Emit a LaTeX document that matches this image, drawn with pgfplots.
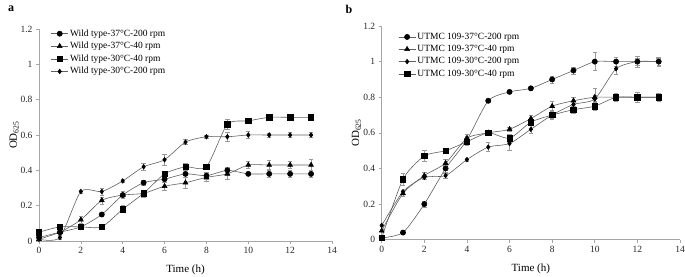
\documentclass[border=0pt]{standalone}
\usepackage{pgfplots}
\pgfplotsset{compat=1.18}
\usepackage{fontspec}
\setmainfont{Liberation Serif}

\pgfplotstableread{
t y e
0 0.02 0.005
1 0.05 0.01
2 0.08 0.01
3 0.15 0.01
4 0.26 0.02
5 0.33 0.015
6 0.35 0.02
7 0.38 0.02
8 0.37 0.02
9 0.40 0.02
10 0.38 0.01
11 0.38 0.02
12 0.38 0.02
13 0.38 0.02
}\aA
\pgfplotstableread{
t y e
0 0.01 0.005
1 0.05 0.01
2 0.12 0.02
3 0.23 0.02
4 0.26 0.02
5 0.27 0.02
6 0.31 0.02
7 0.33 0.03
8 0.36 0.02
9 0.38 0.03
10 0.43 0.02
11 0.43 0.025
12 0.43 0.02
13 0.43 0.03
}\aB
\pgfplotstableread{
t y e
0 0.05 0.01
1 0.08 0.01
2 0.08 0.015
3 0.08 0.015
4 0.18 0.02
5 0.27 0.015
6 0.38 0.015
7 0.42 0.02
8 0.42 0.015
9 0.66 0.03
10 0.68 0.015
11 0.70 0.015
12 0.70 0.015
13 0.70 0.015
}\aC
\pgfplotstableread{
t y e
0 0.01 0.005
1 0.02 0.01
2 0.28 0.01
3 0.28 0.02
4 0.34 0.01
5 0.42 0.02
6 0.46 0.03
7 0.56 0.015
8 0.59 0.01
9 0.59 0.025
10 0.60 0.02
11 0.60 0.01
12 0.60 0.015
13 0.60 0.015
}\aD

\pgfplotstableread{
t y e
0 0.01 0.005
1 0.04 0.01
2 0.20 0.015
3 0.40 0.02
4 0.56 0.02
5 0.78 0.01
6 0.83 0.01
7 0.85 0.01
8 0.90 0.02
9 0.95 0.02
10 1.00 0.05
11 1.00 0.025
12 1.00 0.03
13 1.00 0.025
}\bA
\pgfplotstableread{
t y e
0 0.05 0.01
1 0.26 0.015
2 0.36 0.02
3 0.43 0.02
4 0.57 0.02
5 0.60 0.01
6 0.62 0.01
7 0.68 0.02
8 0.75 0.025
9 0.78 0.02
10 0.80 0.05
11 0.80 0.02
12 0.80 0.03
13 0.80 0.02
}\bB
\pgfplotstableread{
t y e
0 0.08 0.005
1 0.27 0.01
2 0.35 0.01
3 0.36 0.015
4 0.45 0.01
5 0.52 0.025
6 0.54 0.035
7 0.62 0.02
8 0.70 0.02
9 0.76 0.02
10 0.79 0.02
11 0.96 0.03
12 1.00 0.02
13 1.00 0.02
}\bC
\pgfplotstableread{
t y e
0 0.01 0.005
1 0.34 0.035
2 0.47 0.03
3 0.50 0.01
4 0.55 0.02
5 0.60 0.01
6 0.57 0.02
7 0.66 0.02
8 0.70 0.025
9 0.73 0.02
10 0.75 0.025
11 0.80 0.025
12 0.80 0.03
13 0.80 0.025
}\bD

\pgfplotsset{
  myaxis/.style={
    scale only axis,
    xmin=0, xmax=14, ymin=0, ymax=1.2,
    xtick={0,2,...,14},
    ytick={0,0.2,0.4,0.6,0.8,1,1.2},
    axis x line*=bottom, axis y line*=left,
    axis line style={gray!70, line width=0.6pt, -},
    tick style={gray!70, line width=0.6pt},
    tick align=outside,
    major tick length=3bp,
    /pgf/number format/assume math mode=true,
    ticklabel style={font=\fontsize{9.5bp}{11bp}\selectfont, text=black!85},
    label style={font=\fontsize{11bp}{13bp}\selectfont},
    xlabel={Time (h)},
    ylabel={OD\textsubscript{625}},
    xlabel style={at={(axis description cs:0.5,-0.135)}, anchor=center},
    ylabel style={at={(axis description cs:-0.085,0.5)}, anchor=center, rotate=0},
    legend cell align=left,
    legend style={draw=none, fill=none, font=\fontsize{9.5bp}{11bp}\selectfont,
      anchor=north west, inner sep=0pt, row sep=1.5bp,
      nodes={inner sep=1.5bp}},
    every axis plot/.append style={gray!75!black, line width=0.6pt, smooth, tension=0.4,
      mark options={black, solid, fill=black}},
    error bars/y dir=both, error bars/y explicit,
    error bars/error bar style={gray!80, line width=0.5pt},
    error bars/error mark options={gray!80, rotate=90, mark size=2.2bp, line width=0.5pt},
  },
}

\begin{document}
\begin{tikzpicture}[x=1bp,y=1bp]
\useasboundingbox (-39bp,-36bp) rectangle (646bp,241bp);

\begin{axis}[myaxis, width=293bp, height=212bp, at={(0bp,0bp)},
  legend style={at={(axis description cs:0.04,1.005)}}]
\addplot[mark=*, mark size=2.6bp] table[x=t,y=y,y error=e]{\aA};
\addlegendentry{Wild type-37°C-200 rpm}
\addplot[mark=triangle*, mark size=2.8bp] table[x=t,y=y,y error=e]{\aB};
\addlegendentry{Wild type-37°C-40 rpm}
\addplot[mark=square*, mark size=2.7bp] table[x=t,y=y,y error=e]{\aC};
\addlegendentry{Wild type-30°C-40 rpm}
\addplot[mark=diamond*, mark size=2.3bp] table[x=t,y=y,y error=e]{\aD};
\addlegendentry{Wild type-30°C-200 rpm}
\end{axis}

\begin{axis}[myaxis, width=298.3bp, height=213.7bp, at={(342.7bp,1.3bp)},
  legend style={at={(axis description cs:0.055,0.975)}}]
\addplot[mark=*, mark size=2.6bp] table[x=t,y=y,y error=e]{\bA};
\addlegendentry{UTMC 109-37°C-200 rpm}
\addplot[mark=triangle*, mark size=2.8bp] table[x=t,y=y,y error=e]{\bB};
\addlegendentry{UTMC 109-37°C-40 rpm}
\addplot[mark=diamond*, mark size=2.3bp] table[x=t,y=y,y error=e]{\bC};
\addlegendentry{UTMC 109-30°C-200 rpm}
\addplot[mark=square*, mark size=2.7bp] table[x=t,y=y,y error=e]{\bD};
\addlegendentry{UTMC 109-30°C-40 rpm}
\end{axis}

\node[font=\fontsize{12bp}{14bp}\selectfont\bfseries] at (-28bp,232bp) {a};
\node[font=\fontsize{12bp}{14bp}\selectfont\bfseries] at (310bp,232bp) {b};
\end{tikzpicture}
\end{document}
